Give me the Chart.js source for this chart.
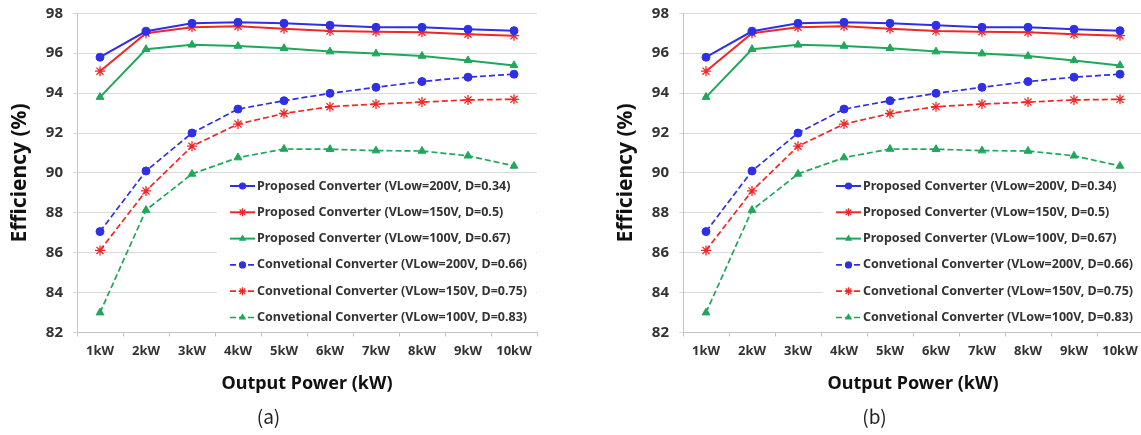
<!DOCTYPE html>
<html>
<head>
<meta charset="utf-8">
<script src="https://cdn.jsdelivr.net/npm/chart.js@4/dist/chart.umd.min.js"></script>
<style>
html,body{margin:0;padding:0;background:#fff;overflow:hidden;width:1141px;height:435px;position:relative;}
canvas{position:absolute;top:0;}
#c1{left:0;}
#c2{left:606px;}
</style>
</head>
<body>
<canvas id="c1" width="558" height="435"></canvas>
<canvas id="c2" width="558" height="435"></canvas>
<script>
// ---- data ----
const categories = ['1kW','2kW','3kW','4kW','5kW','6kW','7kW','8kW','9kW','10kW'];
const yTicks = [82, 84, 86, 88, 90, 92, 94, 96, 98];

const propVLow200 = [95.8, 97.1, 97.5, 97.55, 97.5, 97.4, 97.3, 97.3, 97.2, 97.13];
const propVLow150 = [95.1, 97.0, 97.3, 97.35, 97.23, 97.11, 97.08, 97.05, 96.95, 96.88];
const propVLow100 = [93.8, 96.2, 96.42, 96.36, 96.25, 96.08, 95.98, 95.86, 95.64, 95.39];
const convVLow200 = [87.06, 90.1, 92.0, 93.2, 93.62, 93.99, 94.29, 94.58, 94.8, 94.95];
const convVLow150 = [86.12, 89.1, 91.34, 92.45, 92.98, 93.32, 93.45, 93.55, 93.66, 93.69];
const convVLow100 = [83.0, 88.14, 89.95, 90.77, 91.2, 91.19, 91.12, 91.1, 90.86, 90.35];

const seriesLabels = [
  'Proposed Converter (VLow=200V, D=0.34)',
  'Proposed Converter (VLow=150V, D=0.5)',
  'Proposed Converter (VLow=100V, D=0.67)',
  'Convetional Converter (VLow=200V, D=0.66)',
  'Convetional Converter (VLow=150V, D=0.75)',
  'Convetional Converter (VLow=100V, D=0.83)'
];
const panelLabels = ['(a)', '(b)'];

// ---- styles ----
const BLUE = '#2f2fe8', RED = '#f22626', GREEN = '#1fa85a';
const seriesData = [propVLow200, propVLow150, propVLow100, convVLow200, convVLow150, convVLow100];
const seriesColors = [BLUE, RED, GREEN, BLUE, RED, GREEN];
const seriesPoints = ['circle', 'star', 'triangle', 'circle', 'star', 'triangle'];
const seriesRadius = [4, 5, 4.5, 4, 5, 4.5];
const seriesDashed = [false, false, false, true, true, true];

const insideLegend = {
  id: 'insideLegend',
  beforeDatasetsDraw(chart) {
    const {ctx, chartArea: a} = chart;
    ctx.save();
    ctx.fillStyle = '#ffffff';
    ctx.fillRect(a.left + 140, a.top + 162, a.right - a.left - 141, a.bottom - a.top - 163);
    ctx.restore();
  },
  afterDatasetsDraw(chart) {
    const {ctx, chartArea: a} = chart;
    const x0 = a.left + 153, y0 = a.top + 172.7, dy = 26.3;
    chart.data.datasets.forEach((ds, i) => {
      const y = y0 + i * dy;
      ctx.save();
      ctx.strokeStyle = ds.borderColor;
      ctx.lineWidth = ds.borderWidth;
      ctx.setLineDash(ds.borderDash || []);
      ctx.beginPath();
      ctx.moveTo(x0, y);
      ctx.lineTo(x0 + 25, y);
      ctx.stroke();
      ctx.setLineDash([]);
      ctx.fillStyle = ds.pointBackgroundColor;
      ctx.strokeStyle = ds.pointBorderColor;
      ctx.lineWidth = 1.2;
      Chart.helpers.drawPoint(ctx, {pointStyle: ds.pointStyle, radius: ds.pointStyle === 'star' ? 4 : 3, borderWidth: 1.2, rotation: 0}, x0 + 12.5, y);
      ctx.fillStyle = '#333333';
      ctx.font = 'bold 12.5px "Noto Sans"';
      ctx.textBaseline = 'middle';
      ctx.textAlign = 'left';
      ctx.fillText(ds.label, x0 + 27, y);
      ctx.restore();
    });
  }
};

function makeChart(id, panel) {
  const datasets = seriesLabels.map((label, i) => ({
    label,
    data: seriesData[i],
    borderColor: seriesColors[i],
    backgroundColor: seriesColors[i],
    pointBackgroundColor: seriesColors[i],
    pointBorderColor: seriesColors[i],
    pointStyle: seriesPoints[i],
    pointRadius: seriesRadius[i],
    pointBorderWidth: seriesPoints[i] === 'star' ? 1.3 : 1,
    borderWidth: seriesDashed[i] ? 1.7 : 2,
    borderDash: seriesDashed[i] ? [6, 3] : [],
    tension: 0,
    fill: false
  }));
  return new Chart(document.getElementById(id), {
    type: 'line',
    data: { labels: categories, datasets },
    plugins: [insideLegend],
    options: {
      responsive: false,
      animation: false,
      layout: { autoPadding: false, padding: { left: 0, right: 21, top: 13.3, bottom: 0 } },
      plugins: {
        legend: { display: false },
        tooltip: { enabled: false },
        title: {
          display: true,
          text: panel,
          position: 'bottom',
          color: '#222222',
          font: { family: '"Noto Sans CJK KR"', size: 19, weight: 'normal' },
          padding: { top: 4, bottom: 6.6 }
        }
      },
      scales: {
        x: {
          offset: true,
          afterFit(scale) { scale.height = 69; },
          grid: { display: true, drawOnChartArea: false, drawTicks: true, tickLength: 4, offset: true, color: '#c4c4c4' },
          border: { display: true, color: '#c4c4c4', width: 1 },
          ticks: { color: '#333333', font: { family: '"Noto Sans"', size: 13, weight: 'bold' }, padding: 7, maxRotation: 0, autoSkip: false },
          title: {
            display: true, text: 'Output Power (kW)', color: '#111111',
            font: { family: '"Noto Sans"', size: 18, weight: 'bold' },
            padding: { top: 0, bottom: 6.8 }
          }
        },
        y: {
          min: yTicks[0],
          max: yTicks[yTicks.length - 1],
          afterFit(scale) { scale.width = 77; scale.paddingTop = 0; scale.paddingBottom = 0; },
          afterBuildTicks(scale) { scale.ticks = yTicks.map(v => ({ value: v })); },
          grid: { color: '#d9d9d9', lineWidth: 1, drawTicks: true, tickLength: 4 },
          border: { display: true, color: '#c4c4c4', width: 1 },
          ticks: { color: '#333333', font: { family: '"Noto Sans"', size: 15, weight: 'bold' }, padding: 10 },
          title: {
            display: true, text: 'Efficiency (%)', color: '#111111',
            font: { family: '"Noto Sans"', size: 21, weight: 'bold' },
            padding: { top: 7.4, bottom: 0 }
          }
        }
      }
    }
  });
}

makeChart('c1', panelLabels[0]);
makeChart('c2', panelLabels[1]);
</script>
</body>
</html>
